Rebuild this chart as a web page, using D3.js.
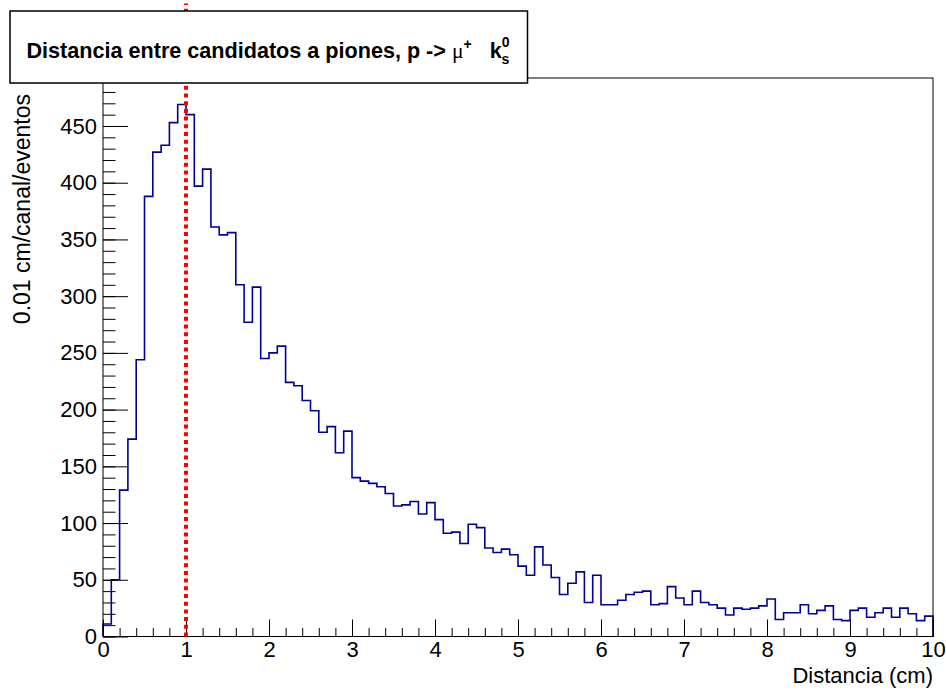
<!DOCTYPE html>
<html>
<head>
<meta charset="utf-8">
<script src="https://cdn.jsdelivr.net/npm/d3@7"></script>
<style>
  body { margin: 0; background: #fff; }
  text { font-family: "Liberation Sans", Arial, Helvetica, sans-serif; }
</style>
</head>
<body>
<div class="chart-container"></div>
<script>
// histogram: 100 bins of 0.1 cm between 0 and 10
const binWidth = 0.1;
const counts = [
  11, 50, 129, 174, 244, 388, 427, 433, 453, 469,
  460, 397, 412, 361, 354, 356, 310, 277, 308, 245,
  250, 256, 224, 221, 208, 199, 180, 185, 162, 181,
  140, 137, 135, 132, 126, 115, 116, 119, 108, 118,
  103, 91, 92, 82, 99, 96, 78, 74, 77, 72,
  62, 54, 79, 63, 52, 37, 47, 57, 30, 54,
  28, 28, 32, 37, 39, 40, 28, 29, 44, 34,
  28, 40, 30, 28, 25, 19, 25, 24, 25, 27,
  33, 15, 21, 21, 28, 20, 23, 27, 15, 14,
  23, 25, 17, 21, 25, 17, 25, 20, 14, 18
];
const xTicks = [0, 1, 2, 3, 4, 5, 6, 7, 8, 9, 10];
const yTicks = [0, 50, 100, 150, 200, 250, 300, 350, 400, 450];
const cutValue = 1.0;      // red dashed line
const cutTop = 558;        // how high the red line reaches

const width = 946;
const height = 690;
const frame = { left: 103, right: 933, top: 78, bottom: 636.5 };

const svg = d3.select(".chart-container").append("svg")
  .attr("width", width)
  .attr("height", height);

const x = d3.scaleLinear().domain([0, 10]).range([frame.left, frame.right]);
const y = d3.scaleLinear().domain([0, 492.3]).range([frame.bottom, frame.top]);

// step outline of the histogram
const pts = [[0, 0]];
counts.forEach((c, i) => {
  pts.push([i * binWidth, c]);
  pts.push([(i + 1) * binWidth, c]);
});
pts.push([10, 0]);

svg.append("path")
  .datum(pts)
  .attr("fill", "none")
  .attr("stroke", "#000099")
  .attr("stroke-width", 1.6)
  .attr("d", d3.line().x(d => x(d[0])).y(d => y(d[1])));

// minor ticks
const xMinor = d3.range(0, 10.001, 0.2);
const yMinor = d3.range(0, 491, 10);

svg.append("g")
  .attr("transform", `translate(0,${frame.bottom})`)
  .call(d3.axisBottom(x).tickValues(xMinor).tickSizeInner(-8.5).tickSizeOuter(0).tickFormat(""))
  .call(g => g.select(".domain").remove());

svg.append("g")
  .attr("transform", `translate(${frame.left},0)`)
  .call(d3.axisLeft(y).tickValues(yMinor).tickSizeInner(-12.5).tickSizeOuter(0).tickFormat(""))
  .call(g => g.select(".domain").remove());

// major ticks + labels
const xAxis = svg.append("g")
  .attr("transform", `translate(0,${frame.bottom})`)
  .call(d3.axisBottom(x).tickValues(xTicks).tickSizeInner(-17).tickSizeOuter(0).tickPadding(5).tickFormat(d3.format("d")));
xAxis.select(".domain").remove();
xAxis.selectAll("text").attr("font-size", 22).attr("fill", "#000")
  .style("font-family", "'Liberation Sans', Arial, sans-serif");

const yAxis = svg.append("g")
  .attr("transform", `translate(${frame.left},0)`)
  .call(d3.axisLeft(y).tickValues(yTicks).tickSizeInner(-25).tickSizeOuter(0).tickPadding(6).tickFormat(d3.format("d")));
yAxis.select(".domain").remove();
yAxis.selectAll("text").attr("font-size", 22).attr("fill", "#000")
  .style("font-family", "'Liberation Sans', Arial, sans-serif");

svg.selectAll(".tick line").attr("stroke", "#000").attr("stroke-width", 1);

// frame
svg.append("rect")
  .attr("x", frame.left)
  .attr("y", frame.top)
  .attr("width", frame.right - frame.left)
  .attr("height", frame.bottom - frame.top)
  .attr("fill", "none")
  .attr("stroke", "#000")
  .attr("stroke-width", 1);

// axis titles
svg.append("text")
  .attr("x", frame.right)
  .attr("y", 683)
  .attr("text-anchor", "end")
  .attr("font-size", 22)
  .text("Distancia (cm)");

svg.append("text")
  .attr("transform", `translate(30,94) rotate(-90)`)
  .attr("text-anchor", "end")
  .attr("font-size", 23)
  .text("0.01 cm/canal/eventos");

// red dotted cut line
svg.append("line")
  .attr("x1", x(cutValue))
  .attr("x2", x(cutValue))
  .attr("y1", y(0))
  .attr("y2", y(cutTop))
  .attr("stroke", "#ff0000")
  .attr("stroke-width", 4)
  .attr("stroke-dasharray", "4,3.7");

// title box
svg.append("rect")
  .attr("x", 10)
  .attr("y", 11)
  .attr("width", 517.5)
  .attr("height", 72)
  .attr("fill", "#fff")
  .attr("stroke", "#000")
  .attr("stroke-width", 1.5);

const title = svg.append("text")
  .attr("x", 268)
  .attr("y", 58)
  .attr("text-anchor", "middle")
  .attr("font-size", 21.6)
  .attr("font-weight", "bold");
title.append("tspan").text("Distancia entre candidatos a piones, p -> ");
title.append("tspan")
  .attr("font-family", "'Liberation Serif', 'DejaVu Serif', serif")
  .attr("font-weight", "normal")
  .text("\u03BC");
title.append("tspan").attr("font-size", 14).attr("dy", -9).text("+");
title.append("tspan").attr("dy", 9).text("\u00A0\u00A0\u00A0k");
title.append("tspan").attr("font-size", 14).attr("dy", -11).text("0");
title.append("tspan").attr("font-size", 14).attr("dx", -8).attr("dy", 17).text("s");
</script>
</body>
</html>
